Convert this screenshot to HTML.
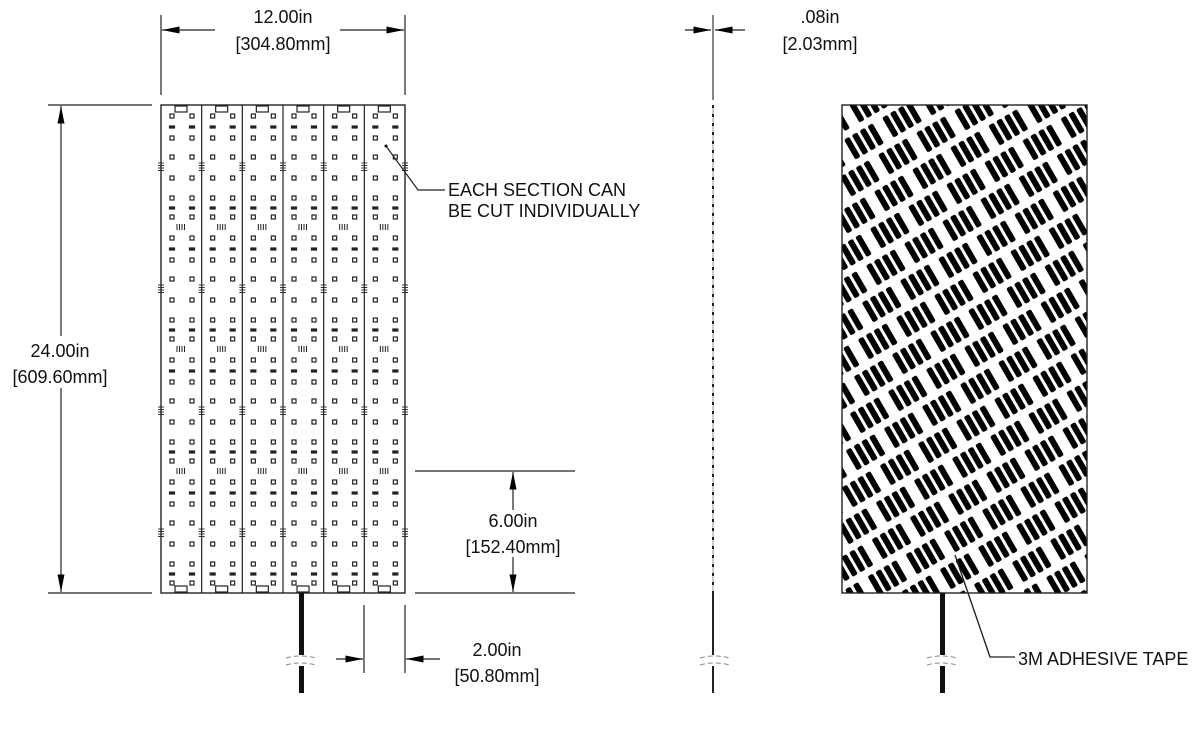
<!DOCTYPE html>
<html><head><meta charset="utf-8"><style>
html,body{margin:0;padding:0;background:#fff;}
svg{display:block}
text{font-family:"Liberation Sans",sans-serif;font-size:18px;fill:#111;}
</style></head><body>
<svg id="s" width="1200" height="742" viewBox="0 0 1200 742" xmlns="http://www.w3.org/2000/svg">
<defs>
<marker id="a" viewBox="0 0 10 4" refX="10" refY="2" markerWidth="28" markerHeight="7" markerUnits="userSpaceOnUse" orient="auto"><path d="M0,0 L10,2 L0,4 Z" fill="#000"/></marker>
<pattern id="tp" width="44" height="60" patternUnits="userSpaceOnUse" patternTransform="rotate(-30)">
<g fill="#000">
<rect x="1" y="3" width="6" height="23" rx="2"/>
<rect x="10" y="3" width="6" height="23" rx="2"/>
<rect x="19" y="3" width="6" height="23" rx="2"/>
<rect x="28" y="3" width="6" height="23" rx="2"/>
<rect x="23" y="33" width="6" height="23" rx="2"/>
<rect x="32" y="33" width="6" height="23" rx="2"/>
<rect x="41" y="33" width="6" height="23" rx="2"/>
<rect x="-3" y="33" width="6" height="23" rx="2"/>
<rect x="6" y="33" width="6" height="23" rx="2"/>
</g>
</pattern>
</defs>
<g stroke="#222" stroke-width="1.2" fill="none">
<line x1="161" y1="15" x2="161" y2="95"/><line x1="405" y1="15" x2="405" y2="95"/>
<line x1="215" y1="30" x2="162" y2="30" marker-end="url(#a)"/>
<line x1="340" y1="30" x2="404" y2="30" marker-end="url(#a)"/>
<line x1="48" y1="105" x2="152" y2="105"/><line x1="48" y1="593" x2="152" y2="593"/>
<line x1="61" y1="336" x2="61" y2="106" marker-end="url(#a)"/>
<line x1="61" y1="388" x2="61" y2="592" marker-end="url(#a)"/>
<line x1="415" y1="471" x2="575" y2="471"/><line x1="415" y1="593" x2="575" y2="593"/>
<line x1="513" y1="510" x2="513" y2="472" marker-end="url(#a)"/>
<line x1="513" y1="557" x2="513" y2="592" marker-end="url(#a)"/>
<line x1="364" y1="605" x2="364" y2="673"/><line x1="405" y1="605" x2="405" y2="673"/>
<line x1="336" y1="659" x2="363" y2="659" marker-end="url(#a)"/>
<line x1="440" y1="659" x2="406" y2="659" marker-end="url(#a)"/>
<line x1="685" y1="30" x2="711" y2="30" marker-end="url(#a)"/>
<line x1="745" y1="30" x2="715" y2="30" marker-end="url(#a)"/>
<polyline points="386,146 418,190 445,190"/>
<polyline points="955,555 990,657 1015,657"/>
</g>
<circle cx="386" cy="146" r="1.5" fill="#000"/>
<g id="panel" stroke="#222" fill="none" stroke-width="1.2"></g>
<rect x="161" y="105" width="244" height="488" fill="none" stroke="#222" stroke-width="1.4"/>
<rect x="299" y="593" width="5" height="62" fill="#111"/><rect x="299" y="666" width="5" height="27" fill="#111"/>
<path d="M286,658 q14,-4 30,0 M286,665 q14,-4 30,0" stroke="#888" stroke-dasharray="5,3" fill="none"/>
<line x1="713" y1="15" x2="713" y2="100" stroke="#888" stroke-width="2"/>
<line x1="713" y1="105" x2="713" y2="593" stroke="#999" stroke-width="1"/>
<line x1="713" y1="105" x2="713" y2="593" stroke="#222" stroke-width="2" stroke-dasharray="3,6"/>
<line x1="713" y1="593" x2="713" y2="655" stroke="#222" stroke-width="2"/>
<line x1="713" y1="666" x2="713" y2="693" stroke="#222" stroke-width="2"/>
<path d="M700,658 q14,-4 30,0 M700,665 q14,-4 30,0" stroke="#888" stroke-dasharray="5,3" fill="none"/>
<rect x="842" y="105" width="245" height="488" fill="url(#tp)" stroke="#222" stroke-width="1.4"/>
<line x1="955" y1="555" x2="990" y2="657" stroke="#222" stroke-width="1.2"/>
<rect x="940" y="593" width="5" height="62" fill="#111"/><rect x="940" y="666" width="5" height="27" fill="#111"/>
<path d="M927,658 q14,-4 30,0 M927,665 q14,-4 30,0" stroke="#888" stroke-dasharray="5,3" fill="none"/>
<text x="283" y="23" text-anchor="middle">12.00in</text>
<text x="283" y="50" text-anchor="middle">[304.80mm]</text>
<text x="60" y="357" text-anchor="middle">24.00in</text>
<text x="60" y="383" text-anchor="middle">[609.60mm]</text>
<text x="513" y="527" text-anchor="middle">6.00in</text>
<text x="513" y="553" text-anchor="middle">[152.40mm]</text>
<text x="497" y="656" text-anchor="middle">2.00in</text>
<text x="497" y="682" text-anchor="middle">[50.80mm]</text>
<text x="820" y="23" text-anchor="middle">.08in</text>
<text x="820" y="50" text-anchor="middle">[2.03mm]</text>
<text x="448" y="196">EACH SECTION CAN</text>
<text x="448" y="217">BE CUT INDIVIDUALLY</text>
<text x="1018" y="665">3M ADHESIVE TAPE</text>
</svg>
<script>
var g=document.getElementById('panel'),h='';
var cw=244/6,rh=122;
for(var c=0;c<6;c++){var x0=161+c*cw;
 if(c>0)h+='<line x1="'+x0+'" y1="105" x2="'+x0+'" y2="593"/>';
 for(var r=0;r<4;r++){var y0=105+r*rh;
  [11,33,52,73,93,112].forEach(function(d){[9,29].forEach(function(e){h+='<rect x="'+(x0+e)+'" y="'+(y0+d-2)+'" width="4" height="4"/>';});});
  [22,103].forEach(function(d){[9,29].forEach(function(e){h+='<rect x="'+(x0+e-0.5)+'" y="'+(y0+d-1)+'" width="5" height="2" fill="#222"/>';});});
  for(var k=0;k<4;k++)h+='<line x1="'+(x0-3)+'" x2="'+(x0+3)+'" y1="'+(y0+58+k*2.5)+'" y2="'+(y0+58+k*2.5)+'" stroke-width="0.9"/>';
  if(c==5)for(var k=0;k<4;k++)h+='<line x1="402" x2="408" y1="'+(y0+58+k*2.5)+'" y2="'+(y0+58+k*2.5)+'" stroke-width="0.9"/>';
  if(r>0)for(var k=0;k<4;k++)h+='<line x1="'+(x0+16+k*2.5)+'" x2="'+(x0+16+k*2.5)+'" y1="'+(y0-3)+'" y2="'+(y0+3)+'" stroke-width="1"/>';
 }
 h+='<rect x="'+(x0+14)+'" y="106" width="12" height="6"/><rect x="'+(x0+14)+'" y="586" width="12" height="6"/>';
}
g.innerHTML=h;
</script>
</body></html>
